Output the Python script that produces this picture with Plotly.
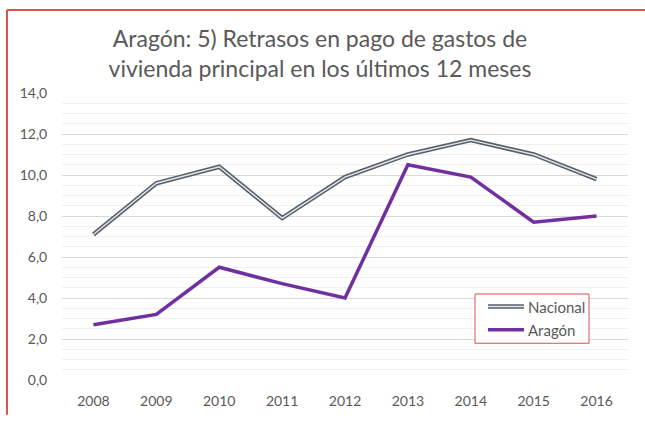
import plotly.graph_objects as go

years = ["2008", "2009", "2010", "2011", "2012", "2013", "2014", "2015", "2016"]
nacional = [7.1, 9.6, 10.4, 7.9, 9.9, 11.0, 11.7, 11.0, 9.8]
aragon = [2.7, 3.2, 5.5, 4.7, 4.0, 10.5, 9.9, 7.7, 8.0]
series_names = ["Nacional", "Aragón"]
title_text = "Aragón: 5) Retrasos en pago de gastos de<br>vivienda principal en los últimos 12 meses"

W, H = 645, 421
L, R, T, B = 62, 17, 93, 31
PLOT_BOTTOM = H - B
PW, PH = W - L - R, PLOT_BOTTOM - T

def px(x):
    return (x - L) / PW

def py(y):
    return (PLOT_BOTTOM - y) / PH

FONT = "Lato"
GREY = "#595959"
NAC_OUT = "#56606C"
NAC_IN = "#E4E6E8"
PURPLE = "#7030A0"
RED = "#D9534F"

fig = go.Figure()
fig.add_trace(go.Scatter(x=years, y=nacional, mode="lines", name=series_names[0],
                         line=dict(color=NAC_OUT, width=4.5), showlegend=False))
fig.add_trace(go.Scatter(x=years, y=nacional, mode="lines", name=series_names[0],
                         line=dict(color=NAC_IN, width=1.4), showlegend=False, hoverinfo="skip"))
fig.add_trace(go.Scatter(x=years, y=aragon, mode="lines", name=series_names[1],
                         line=dict(color=PURPLE, width=3.5), showlegend=False))

shapes = []
shapes.append(dict(type="line", xref="paper", yref="paper", x0=px(7), x1=px(W + 5), y0=py(7), y1=py(7),
                   line=dict(color=RED, width=2)))
shapes.append(dict(type="line", xref="paper", yref="paper", x0=px(7), x1=px(7), y0=py(7), y1=py(H + 5),
                   line=dict(color=RED, width=2)))
shapes.append(dict(type="rect", xref="paper", yref="paper", x0=px(475), x1=px(589), y0=py(352), y1=py(301),
                   line=dict(color=RED, width=1), fillcolor="white", layer="above"))
shapes.append(dict(type="line", xref="paper", yref="paper", x0=px(488), x1=px(524), y0=py(314), y1=py(314),
                   line=dict(color=NAC_OUT, width=4.5), layer="above"))
shapes.append(dict(type="line", xref="paper", yref="paper", x0=px(488), x1=px(524), y0=py(314), y1=py(314),
                   line=dict(color=NAC_IN, width=1.4), layer="above"))
shapes.append(dict(type="line", xref="paper", yref="paper", x0=px(488), x1=px(524), y0=py(338), y1=py(338),
                   line=dict(color=PURPLE, width=3.5), layer="above"))

annotations = [
    dict(text=series_names[0], xref="paper", yref="paper", x=px(526), y=py(314), xanchor="left", yanchor="middle",
         showarrow=False, font=dict(family=FONT, size=15, color=GREY)),
    dict(text=series_names[1], xref="paper", yref="paper", x=px(526), y=py(338), xanchor="left", yanchor="middle",
         showarrow=False, font=dict(family=FONT, size=15, color=GREY)),
]

fig.update_layout(
    width=W, height=H,
    margin=dict(l=L, r=R, t=T, b=B),
    paper_bgcolor="white", plot_bgcolor="white",
    separators=",.",
    showlegend=False,
    title=dict(text=title_text, x=320 / W, xanchor="center", y=1 - 47 / H, yanchor="middle",
               font=dict(family=FONT, size=23, color=GREY)),
    font=dict(family=FONT, color=GREY, size=14),
    shapes=shapes,
    annotations=annotations,
)
fig.update_xaxes(type="category", range=[-0.5, len(years) - 0.5], showgrid=False, showline=False, zeroline=False,
                 ticks="outside", ticklen=8, tickcolor="rgba(0,0,0,0)",
                 tickfont=dict(family=FONT, size=14, color=GREY))
fig.update_yaxes(range=[0, 14], dtick=2, tickformat=".1f", showline=False, zeroline=False,
                 gridcolor="#D9D9D9", gridwidth=1,
                 minor=dict(dtick=0.5, showgrid=True, gridcolor="#F0F0F0", gridwidth=1),
                 ticks="outside", ticklen=11, tickcolor="rgba(0,0,0,0)",
                 tickfont=dict(family=FONT, size=14, color=GREY))

fig.write_html("out.html", config={"displayModeBar": False},
               post_script="document.body.style.margin='0';document.body.style.padding='0';")
